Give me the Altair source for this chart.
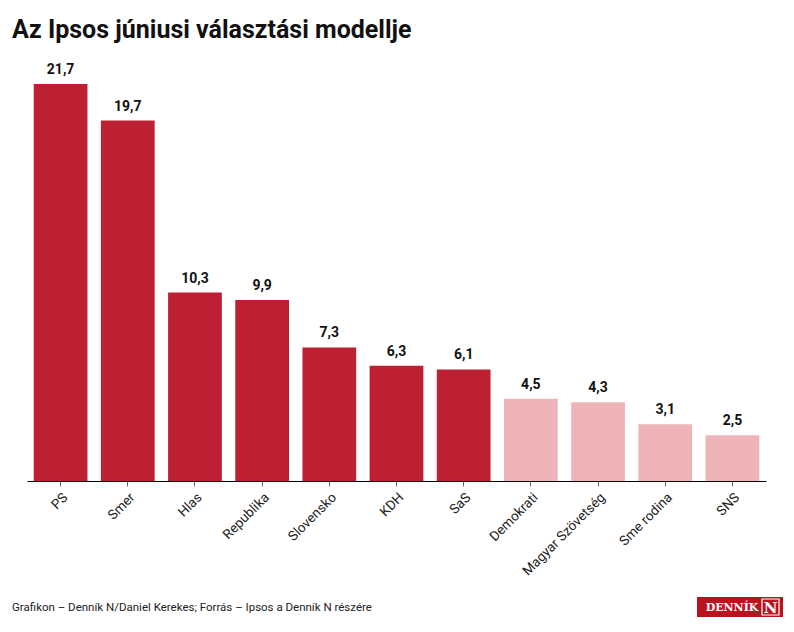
import altair as alt
import pandas as pd

parties = ["PS", "Smer", "Hlas", "Republika", "Slovensko", "KDH", "SaS",
           "Demokrati", "Magyar Szövetség", "Sme rodina", "SNS"]
values = [21.7, 19.7, 10.3, 9.9, 7.3, 6.3, 6.1, 4.5, 4.3, 3.1, 2.5]
group = ["in", "in", "in", "in", "in", "in", "in", "out", "out", "out", "out"]

df = pd.DataFrame({
    "party": parties,
    "value": values,
    "group": group,
    "label": [f"{v:.1f}".replace(".", ",") for v in values],
})

FONT = "Roboto"

x = alt.X("party:N", sort=parties, title=None,
          scale=alt.Scale(paddingInner=0.2, paddingOuter=0.1),
          axis=alt.Axis(labelAngle=-45, labelFontSize=13.5, labelColor="#222",
                        labelFont=FONT, tickColor="#666", tickSize=5,
                        domainColor="#000", labelPadding=4))
y = alt.Y("value:Q", title=None, axis=None,
          scale=alt.Scale(domain=[0, 21.7], nice=False, zero=True))

bars = alt.Chart(df).mark_bar().encode(
    x=x, y=y,
    color=alt.Color("group:N", legend=None,
                    scale=alt.Scale(domain=["in", "out"], range=["#be2033", "#eeb4b8"])),
)

text = alt.Chart(df).mark_text(dy=-7, fontSize=14, fontWeight="bold",
                               font=FONT, color="#111", baseline="bottom").encode(
    x=alt.X("party:N", sort=parties), y="value:Q", text="label:N")

footer_df = pd.DataFrame({"t": ["Grafikon – Denník N/Daniel Kerekes; Forrás – Ipsos a Denník N részére"]})
footer = alt.Chart(footer_df).mark_text(align="left", baseline="middle", fontSize=11.5,
                                        font=FONT, color="#222").encode(
    x=alt.value(-15), y=alt.value(524), text="t:N")

logo_df = pd.DataFrame({"t": ["DENNÍK"], "n": ["N"]})
logo_box = alt.Chart(logo_df).mark_rect(color="#b8131f").encode(
    x=alt.value(670), x2=alt.value(756), y=alt.value(513), y2=alt.value(533))
logo_text = alt.Chart(logo_df).mark_text(align="center", baseline="middle", fontSize=11,
                                         font="DejaVu Serif", fontWeight="bold",
                                         color="white").encode(
    x=alt.value(705), y=alt.value(523.5), text="t:N")
logo_nbox = alt.Chart(logo_df).mark_rect(fill="#b8131f", stroke="white", strokeWidth=1.2).encode(
    x=alt.value(735), x2=alt.value(752), y=alt.value(515), y2=alt.value(531))
logo_n = alt.Chart(logo_df).mark_text(align="center", baseline="middle", fontSize=15,
                                      font="DejaVu Serif", fontWeight="bold",
                                      color="white").encode(
    x=alt.value(743.5), y=alt.value(523.5), text="n:N")

chart = alt.layer(bars, text, footer, logo_box, logo_text, logo_nbox, logo_n).properties(
    width=739, height=397,
    title=alt.TitleParams("Az Ipsos júniusi választási modellje", anchor="start",
                          font=FONT, fontSize=25, fontWeight="bold", color="#111",
                          dx=0, offset=20),
    autosize=alt.AutoSizeParams(type="none"),
    padding={"left": 19, "top": 76, "right": 20, "bottom": 140},
).configure_view(stroke=None)

chart.save("out.html", embed_options={"renderer": "svg", "actions": False})
